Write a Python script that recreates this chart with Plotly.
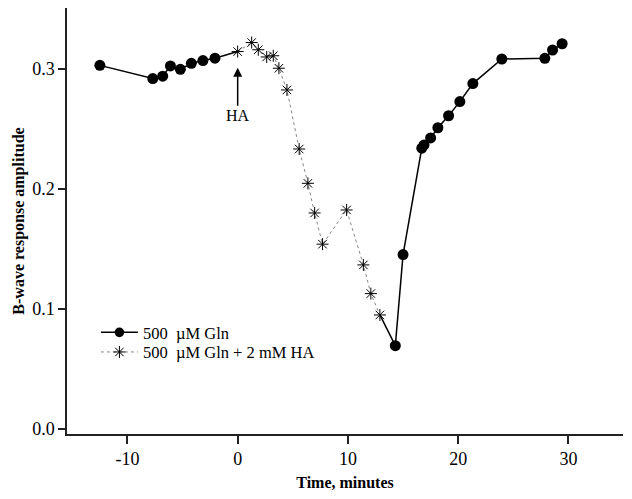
import plotly.graph_objects as go

# Data
gln_x = [-12.5, -7.7, -6.8, -6.1, -5.2, -4.2, -3.15, -2.06, 0.0, None,
         12.9, 14.3, 15.0, 16.7, 16.9, 17.5, 18.16, 19.13, 20.15, 21.33,
         23.96, 27.86, 28.56, 29.43]
gln_y = [0.303, 0.292, 0.294, 0.3025, 0.2997, 0.3047, 0.307, 0.309, 0.3145, None,
         0.095, 0.0694, 0.1453, 0.234, 0.2367, 0.2425, 0.251, 0.261, 0.2728, 0.2878,
         0.3083, 0.3089, 0.3158, 0.321]
# junction points (shared with HA series) carry no circle marker
gln_marker_size = [11, 11, 11, 11, 11, 11, 11, 11, 0, 0,
                   0, 11, 11, 11, 11, 11, 11, 11, 11, 11,
                   11, 11, 11, 11]

ha_x = [0.0, 1.27, 1.87, 2.63, 3.23, 3.74, 4.47, 5.58, 6.37, 6.98, 7.7, 9.88,
        11.4, 12.08, 12.9]
ha_y = [0.3145, 0.322, 0.316, 0.310, 0.311, 0.3006, 0.2825, 0.2333, 0.2047, 0.180,
        0.154, 0.1825, 0.1367, 0.1128, 0.095]

x_tickvals = [-10, 0, 10, 20, 30]
x_ticktext = ["-10", "0", "10", "20", "30"]
y_tickvals = [0.0, 0.1, 0.2, 0.3]
y_ticktext = ["0.0", "0.1", "0.2", "0.3"]

FONT = "Liberation Serif, Times New Roman, serif"

fig = go.Figure()
fig.add_trace(go.Scatter(
    x=gln_x, y=gln_y, mode="lines+markers", name="500 \u00a0\u00b5M Gln",
    line=dict(color="black", width=1.5),
    marker=dict(symbol="circle", size=gln_marker_size, color="black",
                opacity=1, line=dict(width=0, color="black")),
    connectgaps=False, legend="legend",
))
fig.add_trace(go.Scatter(
    x=ha_x, y=ha_y, mode="lines+markers", name="500 \u00a0\u00b5M Gln + 2 mM HA",
    line=dict(color="#888888", width=1, dash="dot"),
    marker=dict(symbol="asterisk-open", size=10, color="black",
                line=dict(color="black", width=1)),
    legend="legend2",
))

fig.add_annotation(
    x=0, y=0.301, xref="x", yref="y", text="HA", showarrow=True,
    ax=0, ay=48, axref="pixel", ayref="pixel",
    arrowhead=2, arrowsize=1.2, arrowwidth=1.5, arrowcolor="black",
    font=dict(family=FONT, size=16, color="black"),
)

legend_common = dict(xanchor="left", yanchor="top", bgcolor="rgba(0,0,0,0)",
                     font=dict(family=FONT, size=16.5), itemwidth=37)

fig.update_layout(
    width=632, height=499,
    margin=dict(l=59, r=17, t=0, b=73),
    paper_bgcolor="white", plot_bgcolor="white",
    font=dict(family=FONT, size=16, color="black"),
    showlegend=True,
    legend=dict(x=0.052, y=0.279, **legend_common),
    legend2=dict(x=0.052, y=0.233, **legend_common),
    xaxis=dict(range=[-15.48, 34.95], tickvals=x_tickvals, ticktext=x_ticktext,
               showgrid=False, zeroline=False, showline=True, linecolor="#222",
               linewidth=1.5, ticks="outside", ticklen=8, tickwidth=1.5,
               tickcolor="#222", tickfont=dict(family=FONT, size=18),
               title=dict(text="<b>Time, minutes</b>", font=dict(family=FONT, size=16),
                          standoff=8)),
    yaxis=dict(range=[-0.0042, 0.3508], tickvals=y_tickvals, ticktext=y_ticktext,
               showgrid=False, zeroline=False, showline=True, linecolor="#222",
               linewidth=1.5, ticks="outside", ticklen=7, tickwidth=1.5,
               tickcolor="#222", tickfont=dict(family=FONT, size=18),
               title=dict(text="<b>B-wave response amplitude</b>",
                          font=dict(family=FONT, size=16), standoff=4)),
)

fig.write_html("out.html")
